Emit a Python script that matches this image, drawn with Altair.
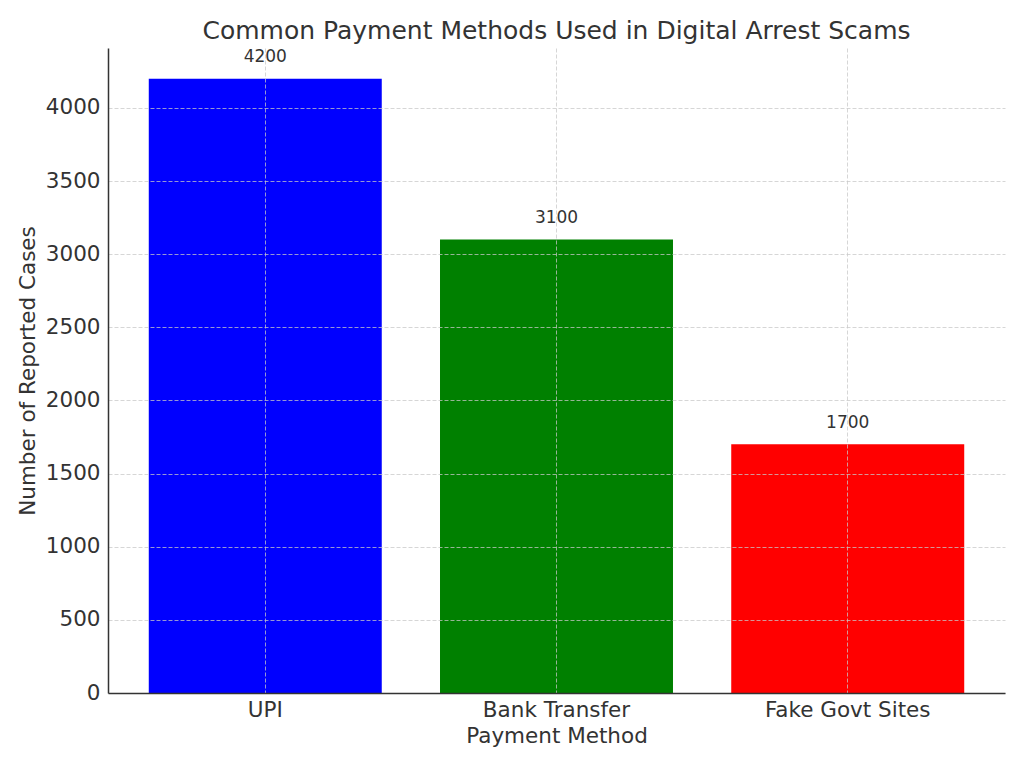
import altair as alt
import pandas as pd

methods = ["UPI", "Bank Transfer", "Fake Govt Sites"]
cases = [4200, 3100, 1700]
colors = ["#0000ff", "#008000", "#ff0000"]
label_offset = [100, 100, 100]

df = pd.DataFrame({
    "method": methods,
    "cases": cases,
    "color": colors,
    "label_pos": [c + o for c, o in zip(cases, label_offset)],
})

FONT = "DejaVu Sans"
TXT = "#333333"
FS = 21.5

x_enc = alt.X("method:N", sort=methods, title="Payment Method",
              scale=alt.Scale(paddingInner=0.2, paddingOuter=0.14),
              axis=alt.Axis(labelAngle=0, labelFontSize=FS, titleFontSize=FS,
                            titleFontWeight="normal",
                            labelColor=TXT, titleColor=TXT, labelFont=FONT, titleFont=FONT,
                            tickSize=0, labelPadding=6, titlePadding=5,
                            domainColor=TXT, domainWidth=1.5,
                            grid=True, gridDash=[4, 2], gridColor="#c8c8c8", gridOpacity=0.75,
                            gridWidth=1, bandPosition=0.5, zindex=1))

y_scale = alt.Scale(domain=[0, 4410], nice=False)

bars = alt.Chart(df).mark_bar(opacity=1).encode(
    x=x_enc,
    y=alt.Y("cases:Q", scale=y_scale, title="Number of Reported Cases",
            axis=alt.Axis(values=[0, 500, 1000, 1500, 2000, 2500, 3000, 3500, 4000],
                          format="d", titleFontWeight="normal",
                          labelFontSize=FS, titleFontSize=FS, labelColor=TXT, titleColor=TXT,
                          labelFont=FONT, titleFont=FONT, tickSize=0, labelPadding=8,
                          titlePadding=6, domainColor=TXT, domainWidth=1.5,
                          grid=True, gridDash=[4, 2], gridColor="#c8c8c8", gridOpacity=0.75,
                          gridWidth=1, zindex=1)),
    color=alt.Color("color:N", scale=None),
)

labels = alt.Chart(df).mark_text(font=FONT, fontSize=17, color=TXT, baseline="alphabetic", dy=-2).encode(
    x=alt.X("method:N", sort=methods),
    y=alt.Y("label_pos:Q", scale=y_scale),
    text=alt.Text("cases:Q"),
)

chart = alt.layer(bars, labels).properties(
    width=897, height=645,
    title=alt.Title("Common Payment Methods Used in Digital Arrest Scams",
                    font=FONT, fontSize=25, fontWeight="normal", color=TXT, offset=4),
    autosize=alt.AutoSizeParams(type="none"),
    padding={"left": 100, "top": 40, "right": 10, "bottom": 60},
).configure_view(stroke=None, strokeWidth=0)

chart.save("out.html", embed_options={"renderer": "svg", "actions": False})
